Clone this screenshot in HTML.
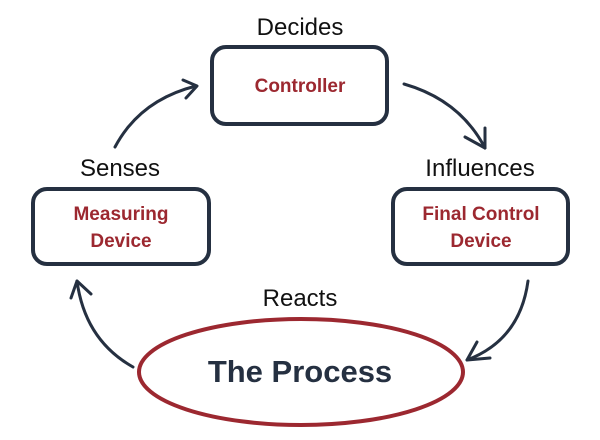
<!DOCTYPE html>
<html><head><style>body{margin:0;background:#fff}svg{display:block}</style></head><body>
<svg width="600" height="440" viewBox="0 0 600 440" xmlns="http://www.w3.org/2000/svg">
<g fill="none" stroke="#253041" stroke-width="4">
<rect x="212" y="47" width="175" height="77" rx="14"/>
<rect x="33" y="189" width="176" height="75" rx="14"/>
<rect x="393" y="189" width="175" height="75" rx="14"/>
</g>
<ellipse cx="301" cy="372" rx="162" ry="53" fill="none" stroke="#9c2830" stroke-width="4"/>
<g fill="none" stroke="#253041" stroke-width="3" stroke-linecap="round" stroke-linejoin="round">
<path d="M115 147 Q140 100 196 86"/><path d="M183 80 L197 86 L186 98"/>
<path d="M404 84 Q460 100 485 148"/><path d="M465 137 L485 148 L485 128"/>
<path d="M528 281 Q520 340 467 360"/><path d="M490 358 L467 360 L477 342"/>
<path d="M133 367 Q85 340 77 281"/><path d="M71 298 L77 281 L91 294"/>
</g>
<g font-family="Liberation Sans, sans-serif" text-anchor="middle">
<text x="300" y="35" font-size="24" fill="#111">Decides</text>
<text x="120" y="176" font-size="24" fill="#111">Senses</text>
<text x="480" y="176" font-size="24" fill="#111">Influences</text>
<text x="300" y="306" font-size="24" fill="#111">Reacts</text>
<text x="300" y="92" font-size="19" font-weight="bold" fill="#9c2830">Controller</text>
<text x="121" y="220" font-size="19" font-weight="bold" fill="#9c2830">Measuring</text>
<text x="121" y="247" font-size="19" font-weight="bold" fill="#9c2830">Device</text>
<text x="481" y="220" font-size="19" font-weight="bold" fill="#9c2830">Final Control</text>
<text x="481" y="247" font-size="19" font-weight="bold" fill="#9c2830">Device</text>
<text x="300" y="382" font-size="31" font-weight="bold" fill="#253041">The Process</text>
</g>
</svg>
</body></html>
